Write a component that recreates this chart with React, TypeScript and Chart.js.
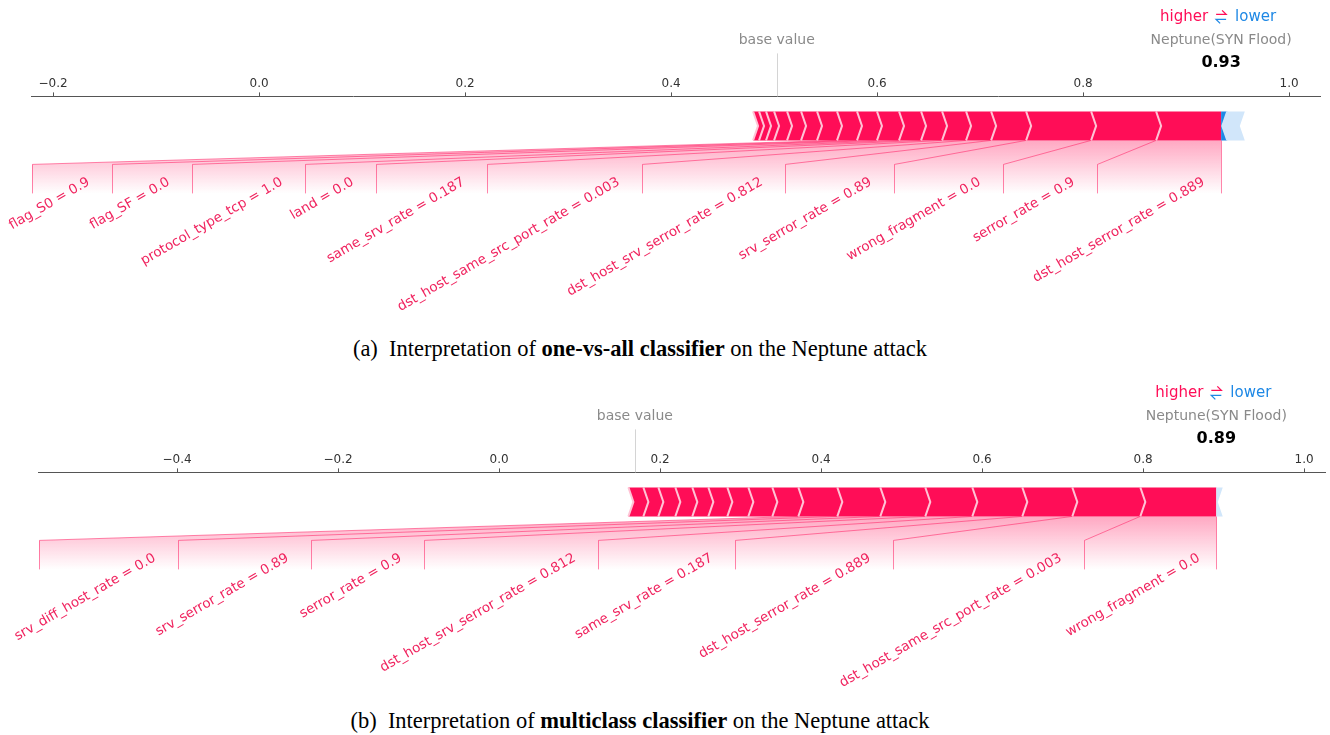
import React, { useEffect, useRef } from 'react';
import { Chart, registerables } from 'chart.js';

Chart.register(...registerables);

// ---------- data: (a) one-vs-all classifier ----------
const ticksA = [-0.2, 0.0, 0.2, 0.4, 0.6, 0.8, 1.0];
const rangeA = [-0.2214, 1.03];
const outputA = 0.934;
// positive SHAP contributions, ordered from the output value leftwards
const pushUpA = [0.0631, 0.0631, 0.0631, 0.034, 0.0243, 0.0233, 0.0204, 0.0214, 0.0214, 0.0194, 0.0194, 0.0194, 0.0155, 0.0136, 0.0126, 0.0078, 0.0068, 0.0058];
// negative SHAP contributions, ordered from the output value rightwards
const pushDownA = [0.006, 0.017];
const featuresA = ['dst_host_serror_rate', 'serror_rate', 'wrong_fragment', 'srv_serror_rate', 'dst_host_srv_serror_rate', 'dst_host_same_src_port_rate', 'same_srv_rate', 'land', 'protocol_type_tcp', 'flag_SF', 'flag_S0'];
const featureValuesA = ['0.889', '0.9', '0.0', '0.89', '0.812', '0.003', '0.187', '0.0', '1.0', '0.0', '0.9'];
const labelAnchorsA = [0.8136, 0.7223, 0.6165, 0.5107, 0.3718, 0.2214, 0.1136, 0.0447, -0.065, -0.1427, -0.2204];

// ---------- data: (b) multiclass classifier ----------
const ticksB = [-0.4, -0.2, 0.0, 0.2, 0.4, 0.6, 0.8, 1.0];
const rangeB = [-0.5727, 1.026];
const outputB = 0.891;
const pushUpB = [0.0944, 0.0845, 0.0621, 0.0621, 0.0584, 0.0559, 0.0534, 0.0484, 0.0323, 0.0298, 0.0261, 0.0236, 0.0199, 0.0211, 0.0211, 0.0186, 0.0186];
const pushDownB = [0.008];
const featuresB = ['wrong_fragment', 'dst_host_same_src_port_rate', 'dst_host_serror_rate', 'same_srv_rate', 'dst_host_srv_serror_rate', 'serror_rate', 'srv_serror_rate', 'srv_diff_host_rate'];
const featureValuesB = ['0.0', '0.003', '0.889', '0.187', '0.812', '0.9', '0.89', '0.0'];
const labelAnchorsB = [0.7267, 0.4894, 0.2932, 0.123, -0.0932, -0.2335, -0.3988, -0.5714];

const outputName = 'Neptune(SYN Flood)';

// ---------- styles ----------
const RED = '#FF0D57';
const RED_LIGHT = '#FFC3D5';
const BLUE = '#1E88E5';
const BLUE_LIGHT = '#D1E6FA';
const FONT = '"DejaVu Sans", Verdana, sans-serif';

type ForceCfg = {
  output: number;
  pushUp: number[];
  pushDown: number[];
  blueFills: string[];
  features: string[];
  values: string[];
  anchors: number[];
};

function fmtTick(v: number) {
  const s = Math.abs(v).toFixed(1);
  return v < -1e-9 ? '\u2212' + s : s;
}

function makeForcePlugin(cfg: ForceCfg) {
  return {
    id: 'forcePlot',
    afterDraw(chart: any) {
      const ctx: CanvasRenderingContext2D = chart.ctx;
      const xs = chart.scales.x;
      const px = (v: number) => xs.getPixelForValue(v);
      const axisY = xs.bottom;
      const barTop = axisY + 15;
      const barBot = axisY + 44;
      const barMid = (barTop + barBot) / 2;
      const elbowY = axisY + 68;
      const lineBot = axisY + 97;
      const textTop = axisY + 79;
      const tip = 5;

      const sumUp = cfg.pushUp.reduce((a, b) => a + b, 0);
      const sumDown = cfg.pushDown.reduce((a, b) => a + b, 0);
      const base = cfg.output - sumUp + sumDown;

      // boundaries of positive features (index 0 = output)
      const upB: number[] = [cfg.output];
      cfg.pushUp.forEach((c) => upB.push(upB[upB.length - 1] - c));
      const downB: number[] = [cfg.output];
      cfg.pushDown.forEach((c) => downB.push(downB[downB.length - 1] + c));

      ctx.save();

      // ---- header texts ----
      const outX = px(cfg.output);
      const baseX = px(base);
      ctx.font = `14px ${FONT}`;
      ctx.textBaseline = 'middle';
      ctx.textAlign = 'center';
      ctx.fillStyle = '#8a8a8a';
      ctx.fillText('base value', baseX, axisY - 56);
      ctx.fillText(outputName, outX, axisY - 56);
      ctx.font = `bold 16px ${FONT}`;
      ctx.fillStyle = '#000';
      ctx.fillText(cfg.output.toFixed(2), outX, axisY - 34);

      // higher <-> lower
      const hy = axisY - 79;
      ctx.font = `15px ${FONT}`;
      ctx.textAlign = 'right';
      ctx.fillStyle = RED;
      ctx.fillText('higher', outX - 13, hy);
      ctx.textAlign = 'left';
      ctx.fillStyle = BLUE;
      ctx.fillText('lower', outX + 14, hy);
      ctx.lineWidth = 1.3;
      ctx.strokeStyle = RED;
      ctx.beginPath();
      ctx.moveTo(outX - 5, hy - 3); ctx.lineTo(outX + 5, hy - 3); ctx.lineTo(outX + 1, hy - 7);
      ctx.stroke();
      ctx.strokeStyle = BLUE;
      ctx.beginPath();
      ctx.moveTo(outX + 5, hy + 2); ctx.lineTo(outX - 5, hy + 2); ctx.lineTo(outX - 1, hy + 6);
      ctx.stroke();

      // base value line
      ctx.strokeStyle = '#d4d4d4';
      ctx.lineWidth = 1;
      ctx.beginPath();
      ctx.moveTo(Math.round(baseX) + 0.5, axisY - 43);
      ctx.lineTo(Math.round(baseX) + 0.5, axisY);
      ctx.stroke();

      // ---- label shading & connectors ----
      const n = cfg.anchors.length;
      const grad = ctx.createLinearGradient(0, barBot, 0, lineBot);
      grad.addColorStop(0, 'rgba(255,13,87,0.36)');
      grad.addColorStop(1, 'rgba(255,13,87,0)');
      for (let i = 0; i < n; i++) {
        const a = px(upB[i + 1]);
        const b = px(upB[i]);
        const lx = px(cfg.anchors[i]);
        ctx.fillStyle = grad;
        ctx.beginPath();
        ctx.moveTo(a, barBot);
        ctx.lineTo(b, barBot);
        if (i === 0) {
          ctx.lineTo(b, lineBot);
        } else {
          const plx = px(cfg.anchors[i - 1]);
          ctx.lineTo(plx, elbowY);
          ctx.lineTo(plx, lineBot);
        }
        ctx.lineTo(lx, lineBot);
        ctx.lineTo(lx, elbowY);
        ctx.closePath();
        ctx.fill();
      }
      ctx.strokeStyle = 'rgba(255,13,87,0.5)';
      ctx.lineWidth = 1;
      ctx.beginPath();
      ctx.moveTo(Math.round(outX) + 0.5, barBot);
      ctx.lineTo(Math.round(outX) + 0.5, lineBot);
      ctx.stroke();
      for (let i = 0; i < n; i++) {
        const a = px(upB[i + 1]);
        const lx = Math.round(px(cfg.anchors[i])) + 0.5;
        ctx.beginPath();
        ctx.moveTo(a, barBot);
        ctx.lineTo(lx, elbowY);
        ctx.lineTo(lx, lineBot);
        ctx.stroke();
      }

      // ---- label texts ----
      const fs = 13.5;
      ctx.font = `${fs}px ${FONT}`;
      ctx.fillStyle = '#F0245F';
      ctx.textAlign = 'right';
      ctx.textBaseline = 'top';
      for (let i = 0; i < n; i++) {
        const right = i === 0 ? outX - 14 : px(cfg.anchors[i - 1]) - 20;
        ctx.save();
        ctx.translate(right - 0.5 * fs, textTop);
        ctx.rotate(-Math.PI / 6);
        ctx.fillText(`${cfg.features[i]} = ${cfg.values[i]}`, 0, 0);
        ctx.restore();
      }

      // ---- red (positive) bar ----
      for (let i = 0; i < cfg.pushUp.length; i++) {
        const xR = px(upB[i]);
        const xL = px(upB[i + 1]);
        const tR = i === 0 ? 0 : tip;
        ctx.fillStyle = RED;
        ctx.beginPath();
        ctx.moveTo(xL, barTop);
        ctx.lineTo(xL + tip, barMid);
        ctx.lineTo(xL, barBot);
        ctx.lineTo(xR, barBot);
        ctx.lineTo(xR + tR, barMid);
        ctx.lineTo(xR, barTop);
        ctx.closePath();
        ctx.fill();
      }
      ctx.strokeStyle = RED_LIGHT;
      ctx.lineWidth = 2;
      for (let i = 1; i < upB.length; i++) {
        const x = px(upB[i]);
        ctx.beginPath();
        ctx.moveTo(x, barTop);
        ctx.lineTo(x + tip, barMid);
        ctx.lineTo(x, barBot);
        ctx.stroke();
      }

      // ---- blue (negative) bar ----
      for (let i = 0; i < cfg.pushDown.length; i++) {
        const xL = px(downB[i]);
        const xR = px(downB[i + 1]);
        const tL = i === 0 ? 0 : tip;
        ctx.fillStyle = cfg.blueFills[i] || BLUE;
        ctx.beginPath();
        ctx.moveTo(xL, barTop);
        ctx.lineTo(xL - tL, barMid);
        ctx.lineTo(xL, barBot);
        ctx.lineTo(xR, barBot);
        ctx.lineTo(xR - tip, barMid);
        ctx.lineTo(xR, barTop);
        ctx.closePath();
        ctx.fill();
      }
      ctx.strokeStyle = BLUE_LIGHT;
      ctx.lineWidth = 2;
      for (let i = 1; i < downB.length - 1; i++) {
        const x = px(downB[i]);
        ctx.beginPath();
        ctx.moveTo(x, barTop);
        ctx.lineTo(x - tip, barMid);
        ctx.lineTo(x, barBot);
        ctx.stroke();
      }

      ctx.restore();
    },
  };
}

function ForceChart(props: { cfg: ForceCfg; ticks: number[]; range: number[]; padLeft: number; padRight: number }) {
  const ref = useRef<HTMLCanvasElement | null>(null);
  useEffect(() => {
    if (!ref.current) return;
    const { cfg, ticks, range, padLeft, padRight } = props;
    const chart = new Chart(ref.current, {
      type: 'scatter',
      data: { datasets: [] },
      options: {
        responsive: false,
        animation: false,
        devicePixelRatio: 1,
        layout: { padding: { left: padLeft, right: padRight, top: 76, bottom: 0 } },
        plugins: { legend: { display: false }, tooltip: { enabled: false } },
        scales: {
          x: {
            type: 'linear',
            position: 'top',
            min: range[0],
            max: range[1],
            afterBuildTicks: (axis: any) => {
              axis.ticks = ticks.map((v) => ({ value: v }));
            },
            ticks: {
              callback: (v: any) => fmtTick(Number(v)),
              font: { family: FONT, size: 12 },
              color: '#333',
              padding: 1,
              maxRotation: 0,
              autoSkip: false,
            },
            grid: { drawOnChartArea: false, drawTicks: true, tickLength: 4, color: '#555', lineWidth: 1 },
            border: { display: true, color: '#555', width: 1 },
          },
          y: { display: false, min: 0, max: 1 },
        },
      } as any,
      plugins: [makeForcePlugin(cfg)],
    });
    return () => chart.destroy();
  }, []);
  return <canvas ref={ref} width={1330} height={330} style={{ width: 1330, height: 330, display: 'block' }} />;
}

const captionStyle: React.CSSProperties = {
  position: 'absolute',
  left: 0,
  width: 1280,
  textAlign: 'center',
  fontFamily: '"Liberation Serif", "Times New Roman", serif',
  fontSize: 22.5,
  color: '#000',
  lineHeight: '26px',
  whiteSpace: 'nowrap',
};

export default function App() {
  const cfgA: ForceCfg = {
    output: outputA,
    pushUp: pushUpA,
    pushDown: pushDownA,
    blueFills: [BLUE, BLUE_LIGHT],
    features: featuresA,
    values: featureValuesA,
    anchors: labelAnchorsA,
  };
  const cfgB: ForceCfg = {
    output: outputB,
    pushUp: pushUpB,
    pushDown: pushDownB,
    blueFills: [BLUE_LIGHT],
    features: featuresB,
    values: featureValuesB,
    anchors: labelAnchorsB,
  };
  return (
    <div style={{ position: 'fixed', left: 0, top: 0, width: 1330, height: 735, background: '#fff', overflow: 'hidden' }}>
      <div style={{ position: 'absolute', left: 0, top: 0 }}>
        <ForceChart cfg={cfgA} ticks={ticksA} range={rangeA} padLeft={31} padRight={10} />
      </div>
      <div style={{ ...captionStyle, top: 336 }}>
        (a)&nbsp; Interpretation of <b>one-vs-all classifier</b> on the Neptune attack
      </div>
      <div style={{ position: 'absolute', left: 0, top: 376 }}>
        <ForceChart cfg={cfgB} ticks={ticksB} range={rangeB} padLeft={38} padRight={5} />
      </div>
      <div style={{ ...captionStyle, top: 708 }}>
        (b)&nbsp; Interpretation of <b>multiclass classifier</b> on the Neptune attack
      </div>
    </div>
  );
}
